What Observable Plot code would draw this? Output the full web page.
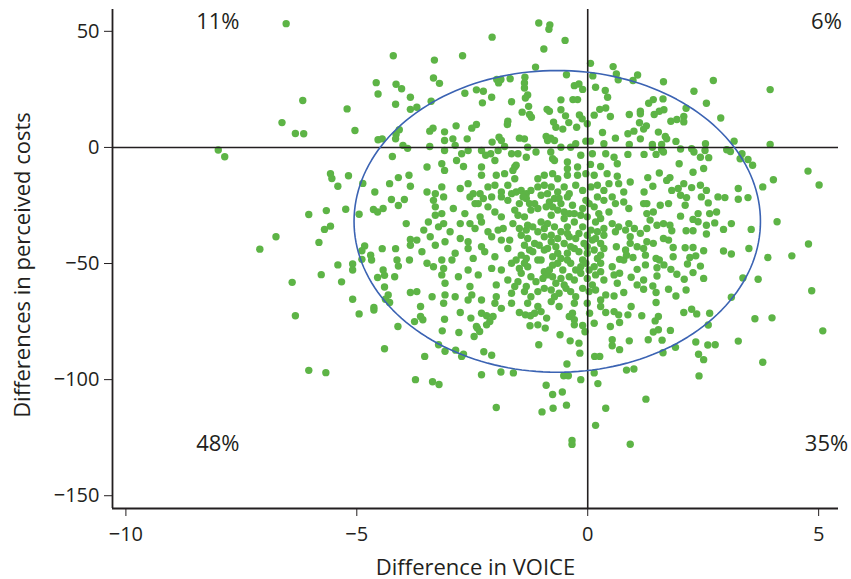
<!DOCTYPE html>
<html><head><meta charset="utf-8">
<script src="https://cdn.jsdelivr.net/npm/d3@7"></script>
<script src="https://cdn.jsdelivr.net/npm/@observablehq/plot@0.6"></script>
<style>body{margin:0;background:#fff}</style>
</head><body><div id="chart"></div>
<script>
// Axis setup
const xDomain = [-10.29, 5.43];
const yDomain = [-155.5, 59.4];
const xTicks = [-10, -5, 0, 5];
const yTicks = [-150, -100, -50, 0, 50];
const xLabel = "Difference in VOICE";
const yLabel = "Differences in perceived costs";

// Quadrant shares
const quadrantText = ["11%", "6%", "48%", "35%"];
const quadrantX = [-8.01, 5.17, -8.01, 5.17];
const quadrantY = [54.2, 54.2, -127.6, -127.6];

// Ellipse parameters
const ellipseCenter = [-0.66, -31.85];
const ellipseRadii = [4.40, 64.97];

// Scatter points [difference in VOICE, difference in perceived costs]
const scatterPairs = [
[-6.53,53.3],[-4.21,39.5],[-4.58,27.9],[-4.15,27.2],[-4.03,25.3],[-4.54,23.0],[-3.84,21.6],[-4.16,18.6],[-3.84,16.4],[-6.17,20.2],[-5.21,16.6],[-6.62,10.7],[-6.33,6.0],[-6.15,5.9],[-5.04,7.3],[-4.08,7.6],[-4.15,5.6],[-4.16,3.7],[-4.54,3.3],[-4.45,3.7],[-4.0,0.9],[-3.90,-0.4],[-4.23,-3.9],[-8.0,-1.1],[-7.86,-4.0],
[-1.06,53.6],[-0.82,52.8],[-0.84,50.9],[-2.07,47.5],[-0.49,46.1],[-0.95,42.4],[-2.71,39.5],[-3.32,37.6],[0.06,36.2],[0.55,34.8],[-1.13,34.6],[0.62,31.6],[0.66,29.1],[-0.46,31.3],[0.11,30.8],[-3.34,29.9],[-3.21,27.6],[-1.97,29.3],[-1.88,29.3],[-1.93,27.8],[-1.68,29.6],[-1.36,30.2],[-1.37,27.8],[-1.37,25.6],[-2.41,24.8],[-2.26,24.2],[-2.66,23.3],[-2.28,19.2],[-2.08,21.6],[-1.30,22.6],[-1.35,21.3],[-1.65,19.7],[-1.28,17.7],[-1.42,15.2],[-1.26,14.2],[-1.22,13.0],[-0.29,26.6],[-0.19,27.3],[-0.11,25.0],[0.17,25.9],[0.38,24.5],[0.43,21.6],[-0.32,20.6],[-0.22,20.6],[-0.58,20.5],[-0.88,16.4],[-0.83,15.6],[-0.58,16.2],[-0.48,13.6],[-0.18,14.0],[-0.12,12.3],[0.14,13.9],[0.26,16.4],[0.39,17.0],[0.49,13.3],[-0.74,10.9],[-0.69,8.7],[-0.54,7.9],[-0.41,10.7],[-0.24,8.7],[-0.01,10.2],[0.32,6.4],[-1.73,11.3],[-1.74,9.9],[-2.85,9.3],[-2.41,9.9],[-2.51,8.3],[-3.35,8.3],[-3.42,7.0],[-3.10,6.7],[-3.39,19.9],[-3.70,17.3],[-3.10,3.0],[-2.92,3.7],[-2.61,3.7],[-2.07,2.3],[-1.92,4.4],[-1.87,3.0],[-1.48,4.0],[-1.37,3.7],[-0.90,4.7],[-0.80,4.0],[-0.87,3.0],[-0.72,3.0],[-0.04,2.7],[0.06,2.7],[0.35,1.6],[0.60,4.0],[-3.42,0.4],[-3.10,-1.3],[-2.87,0.9],[-2.73,-2.7],[-2.59,-1.3],[-2.30,-1.3],[-2.21,-3.4],[-2.10,-2.7],[-1.94,-1.3],[-1.80,0.4],[-1.65,-2.7],[-1.51,-2.7],[-1.30,0.1],[-1.33,-4.2],[-1.12,-2.0],[-0.80,-2.0],[-0.76,-4.9],[-0.58,0.1],[-0.37,0.1],[-0.26,1.6],[-0.15,-3.4],[0.10,-2.7],[0.39,-2.7],[0.57,-4.2],[-3.48,-8.4],[-3.16,-7.0],[-2.69,-8.2],[-2.30,-8.4],[-1.58,-8.4],[-0.44,-6.3],[0.06,-7.3],[0.28,-8.2],
[1.08,31.2],[0.98,28.8],[1.64,28.3],[2.72,28.8],[2.30,24.2],[3.95,24.9],[1.42,20.6],[1.32,19.0],[1.63,20.9],[2.57,19.0],[2.13,16.9],[1.65,16.2],[1.55,15.6],[1.44,14.2],[1.14,15.6],[1.14,14.5],[0.90,14.2],[2.88,12.7],[2.08,13.3],[1.93,12.0],[1.80,11.3],[2.08,11.0],[1.12,10.6],[1.27,9.3],[1.21,7.9],[1.53,6.6],[1.00,7.0],[0.87,5.9],[1.68,4.7],[1.71,3.7],[1.14,3.7],[1.91,2.6],[0.90,1.3],[1.40,1.3],[1.60,1.3],[2.55,1.6],[3.17,2.7],[3.95,1.3],[1.60,-1.0],[1.40,0.1],[2.01,-0.7],[2.25,-0.6],[2.30,-2.0],[2.54,-1.3],[3.01,-1.0],[3.09,-1.8],[3.34,-2.7],[3.30,-4.9],[3.47,-5.2],[3.57,-7.7],[4.77,-10.2],[0.87,-3.0],[1.22,-3.0],[1.48,-3.0],[1.64,-2.0],[2.44,-4.2],[2.62,-4.4],[1.98,-7.0],[0.64,-7.0],[2.51,-9.1],
[5.01,-16.2],[4.02,-13.9],[3.79,-17.0],[3.26,-17.7],[3.26,-22.3],[3.47,-21.6],[4.10,-32.0],[3.54,-35.3],[3.11,-32.8],[2.94,-35.3],[4.78,-41.6],[4.42,-46.7],[3.90,-47.4],[3.49,-43.5],[2.94,-44.6],[3.11,-45.9],[3.36,-56.2],[3.69,-56.8],[4.85,-61.7],[3.11,-64.5],[3.62,-73.8],[3.99,-73.4],[2.64,-71.4],[2.08,-71.1],[2.25,-69.7],[2.36,-71.7],[2.51,-44.5],[2.51,-56.4],[2.28,-53.9],[2.09,-56.8],[2.13,-61.4],[1.91,-64.0],[1.75,-61.1],[2.44,-51.1],[2.34,-46.7],[2.21,-47.4],[2.16,-50.2],[2.28,-43.1],[2.11,-43.2],[1.85,-43.1],[1.85,-47.1],[1.80,-52.5],[1.93,-54.6],[1.50,-51.8],[1.50,-55.4],[1.55,-48.5],[1.48,-47.8],[1.25,-46.4],[1.25,-50.6],[1.07,-52.5],[0.94,-55.9],[1.21,-57.1],[1.41,-59.7],[1.48,-62.5],[1.21,-61.1],[1.07,-59.2],[0.78,-62.5],[0.57,-64.0],[0.64,-58.5],[0.69,-54.2],[1.48,-66.8],[0.94,-68.5],[0.87,-72.1],[1.17,-72.5],[1.53,-72.8],[0.67,-72.1],[1.78,-13.0],[1.71,-14.2],[1.55,-11.0],[1.30,-13.0],[2.28,-10.7],[2.44,-16.3],[2.57,-18.5],[2.25,-17.3],[2.08,-15.6],[1.96,-17.7],[1.82,-18.5],[1.41,-16.7],[1.22,-19.2],[0.92,-14.9],[0.64,-12.4],[0.67,-15.6],[0.78,-19.2],[2.46,-21.3],[2.61,-23.9],[2.82,-21.3],[2.97,-21.6],[2.64,-28.5],[2.79,-27.8],[2.39,-28.5],[2.39,-32.0],[2.28,-31.0],[2.57,-33.5],[2.57,-37.3],[2.75,-32.5],[2.28,-35.9],[2.13,-35.9],[2.01,-29.6],[2.11,-24.9],[1.75,-24.2],[1.57,-24.9],[1.42,-27.8],[1.28,-28.5],[1.28,-24.2],[1.64,-32.8],[1.78,-33.5],[1.82,-35.9],[1.50,-33.5],[1.35,-31.3],[1.28,-34.9],[1.01,-34.9],[0.89,-32.8],[0.82,-35.6],[0.92,-38.5],[1.14,-37.0],[1.64,-39.2],[1.75,-39.9],[1.42,-41.3],[1.28,-40.6],[1.21,-43.5],[1.07,-42.8],[0.92,-41.3],[0.82,-44.2],[0.62,-42.8],[0.60,-36.3],[0.67,-34.2],[0.53,-32.8],[0.53,-21.3],[0.60,-24.2],[0.78,-23.5],[0.89,-26.3],[1.21,-24.2],[2.01,-20.6],[2.14,-21.6],[0.69,-48.2],[0.78,-48.5],[0.98,-47.4],[0.84,-46.4],[0.53,-51.4],[0.57,-54.9],[1.65,-50.6],[0.57,-70.7],
[0.69,-75.4],[0.49,-77.1],[0.53,-82.8],[0.53,-85.4],[0.69,-87.1],[0.90,-83.3],[1.46,-74.7],[1.42,-79.5],[1.53,-78.5],[1.79,-78.8],[1.31,-82.8],[1.61,-83.0],[1.63,-88.4],[1.90,-86.1],[2.61,-76.5],[2.34,-83.8],[2.60,-85.1],[2.76,-85.0],[2.40,-89.1],[2.51,-91.4],[2.41,-98.4],[3.26,-83.4],[3.79,-92.5],[5.09,-79.0],[0.84,-95.9],[1.00,-95.4],[1.26,-108.4],[0.92,-127.8],
[-3.73,-100.0],[-3.36,-100.9],[-3.22,-102.1],[-3.53,-90.0],[-3.23,-85.0],[-3.09,-87.8],[-2.86,-87.3],[-2.73,-90.0],[-2.69,-89.0],[-3.15,-79.0],[-2.79,-79.7],[-2.46,-81.4],[-2.34,-79.3],[-2.39,-77.8],[-2.25,-88.0],[-2.08,-89.5],[-2.30,-97.9],[-1.88,-96.7],[-1.61,-97.1],[-1.98,-112.0],[-1.06,-85.0],[-0.90,-102.4],[-0.76,-106.4],[-0.55,-105.3],[-0.45,-93.3],[-0.52,-98.3],[-0.42,-98.3],[-0.46,-111.0],[-0.75,-112.3],[-0.99,-113.9],[-0.15,-100.0],[0.14,-97.1],[0.22,-101.7],[0.39,-112.3],[0.17,-119.7],[-0.34,-126.2],[-0.34,-127.9],[-0.38,-83.3],[-0.19,-84.3],[-0.17,-88.6],[0.15,-90.0],[0.26,-90.0],[-0.60,-80.7],[-0.92,-77.8],[-1.25,-76.8],[-1.08,-76.4],[-0.89,-73.5],[-0.29,-76.4],[-0.11,-76.7],[-0.06,-79.4],[0.14,-75.7],[-0.40,-72.8],[-0.33,-71.4],[-0.29,-74.2],[0.04,-71.4],[0.39,-71.1],[-1.48,-71.1],[-1.35,-72.1],[-1.24,-72.5],[-1.15,-71.4],[-1.01,-70.7],[-2.30,-71.4],[-2.19,-72.5],[-2.05,-72.8],[-2.12,-75.0],[-2.19,-76.4],[-2.53,-73.5],[-2.41,-77.1],[-3.10,-74.0],[-3.57,-74.2],[-3.75,-75.0],[-3.62,-72.8],[-2.76,-71.1],
[-6.33,-72.5],[-4.95,-71.7],[-4.63,-70.0],[-4.11,-77.1],[-4.40,-86.7],[-6.04,-96.0],[-5.67,-97.0],
[-5.57,-11.3],[-5.54,-13.4],[-5.18,-12.2],[-5.41,-16.7],[-4.87,-15.5],[-4.61,-19.2],[-4.29,-15.6],[-4.10,-13.0],[-3.87,-12.0],[-3.84,-16.7],[-4.25,-22.4],[-3.97,-22.4],[-4.10,-25.0],[-4.64,-26.7],[-4.55,-27.8],[-4.43,-26.3],[-4.95,-28.8],[-5.24,-26.6],[-5.66,-27.2],[-6.04,-28.9],[-5.57,-33.9],[-5.70,-35.3],[-3.93,-32.8],[-6.75,-38.5],[-7.10,-43.8],[-5.82,-40.9],[-4.83,-42.4],[-4.89,-44.5],[-4.45,-43.6],[-4.16,-43.6],[-4.70,-46.4],[-4.68,-48.5],[-4.89,-48.2],[-4.13,-48.5],[-4.10,-51.1],[-3.86,-48.5],[-5.41,-50.6],[-5.09,-50.2],[-5.09,-52.8],[-5.77,-54.8],[-5.33,-57.9],[-6.40,-58.1],[-4.43,-52.8],[-4.40,-55.1],[-4.55,-56.0],[-4.18,-55.7],[-4.40,-60.1],[-4.32,-63.5],[-4.38,-65.4],[-4.29,-66.8],[-3.84,-62.5],[-5.09,-65.4],[-4.63,-68.9],[-3.84,-39.6],[-3.84,-42.1],
[-2.84,-5.6],[-2.01,-5.6],[-1.55,-7.7],[-0.72,-5.6],[-0.22,-8.4],[-0.44,-9.2],[-3.10,-9.9],
[-2.30,-12.0],[-1.98,-12.0],[-1.80,-11.3],[-1.62,-9.9],[-1.58,-13.5],[-1.08,-13.5],[-0.94,-12.0],[-0.76,-11.3],[-0.65,-13.5],[-0.44,-12.0],[-0.22,-12.0],[-0.04,-11.3],[0.14,-12.0],[0.42,-11.3],
[-3.48,-19.2],[-3.30,-19.9],[-3.16,-17.0],[-2.76,-17.7],[-2.59,-15.6],[-2.48,-19.9],[-2.33,-19.9],[-2.16,-17.0],[-2.01,-16.3],[-1.87,-19.2],[-1.73,-16.3],[-1.65,-19.9],[-1.55,-19.2],[-1.44,-18.5],[-1.33,-19.9],[-1.23,-18.5],[-1.08,-17.0],[-0.94,-16.3],[-0.79,-17.0],[-0.65,-19.2],[-0.51,-17.0],[-0.40,-19.9],[-0.26,-16.3],[-0.11,-18.5],[0.07,-17.0],[0.21,-16.3],[0.35,-18.5],[0.46,-15.6],
[-3.34,-22.8],[-3.12,-21.3],[-2.55,-21.3],[-2.44,-24.2],[-2.26,-22.0],[-2.08,-21.3],[-1.87,-21.3],[-1.73,-22.8],[-1.48,-24.2],[-1.33,-22.0],[-1.15,-24.2],[-1.01,-20.6],[-0.83,-23.5],[-0.72,-22.0],[-0.58,-24.2],[-0.44,-21.3],[-0.33,-24.9],[-0.04,-22.8],[0.03,-24.2],[0.21,-21.3],[0.35,-22.8],
[-2.91,-26.3],[-3.30,-25.6],[-3.16,-28.5],[-3.30,-29.2],[-2.33,-29.9],[-1.58,-27.0],[-1.37,-29.9],[-1.23,-27.0],[-1.08,-26.3],[-0.90,-25.6],[-0.79,-29.2],[-0.65,-27.0],[-0.51,-27.8],[-0.29,-28.5],[-0.11,-26.3],[0.14,-25.6],[0.24,-28.5],[0.46,-27.8],
[-3.45,-32.1],[-3.23,-34.2],[-3.12,-32.8],[-2.76,-32.8],[-2.55,-32.8],[-2.44,-34.9],[-2.30,-32.1],[-2.16,-36.3],[-1.94,-35.6],[-1.83,-34.9],[-1.62,-32.8],[-1.48,-34.9],[-1.33,-35.6],[-1.19,-34.2],[-1.01,-32.1],[-0.87,-32.8],[-0.72,-34.2],[-0.58,-36.3],[-0.44,-34.2],[-0.29,-32.1],[-0.11,-34.2],[0.07,-35.6],[0.21,-36.3],[0.35,-34.9],
[-3.70,-39.9],[-3.55,-35.6],[-3.09,-40.6],[-2.76,-39.2],[-2.59,-40.6],[-2.30,-42.8],[-2.08,-38.5],[-1.87,-39.9],[-1.69,-39.9],[-1.44,-37.8],[-1.30,-39.2],[-1.15,-41.4],[-0.94,-38.5],[-0.79,-40.6],[-0.69,-42.8],[-0.51,-41.4],[-0.40,-38.5],[-0.26,-39.2],[-0.08,-41.4],[0.10,-39.9],[0.28,-41.4],
[-3.30,-42.1],[-2.87,-45.6],[-2.59,-43.5],[-2.48,-47.8],[-2.23,-44.9],[-2.01,-47.1],[-1.73,-43.5],[-1.44,-46.4],[-1.33,-47.8],[-1.19,-44.9],[-1.08,-48.5],[-0.94,-44.2],[-0.76,-47.1],[-0.58,-47.8],[-0.44,-45.6],[-0.29,-43.5],[-0.11,-48.5],[-0.01,-45.6],[0.21,-47.8],[0.35,-43.5],
[-3.48,-49.9],[-3.34,-51.4],[-3.16,-48.5],[-3.12,-52.1],[-2.37,-54.9],[-2.08,-52.1],[-1.87,-52.8],[-1.65,-49.9],[-1.48,-52.1],[-1.30,-51.4],[-0.94,-53.5],[-0.76,-50.7],[-0.54,-52.8],[-0.37,-49.9],[-0.15,-51.4],[0.03,-52.8],[0.28,-53.5],
[-3.16,-54.9],[-3.09,-58.5],[-1.98,-59.2],[-1.73,-57.1],[-1.51,-57.8],[-1.33,-59.9],[-1.12,-57.8],[-0.87,-54.9],[-0.69,-58.5],[-0.51,-59.2],[-0.29,-57.1],[-0.01,-56.4],[0.10,-59.2],[0.35,-57.1],
[-3.70,-62.1],[-3.09,-63.5],[-2.55,-59.9],[-2.51,-63.5],[-1.98,-64.3],[-1.65,-62.8],[-1.23,-64.3],[-1.08,-62.1],[-0.79,-61.4],[-0.62,-62.8],[-0.47,-60.7],[-0.26,-64.3],[0.03,-62.1],[0.39,-63.5],
[-3.62,-68.5],[-3.12,-67.1],[-1.87,-69.3],[-1.65,-67.1],[-1.08,-68.5],[-0.62,-68.5],[0.28,-68.5],
[-1.40,-21.3],[-1.26,-24.2],[-0.87,-19.9],[-0.76,-25.6],[-0.62,-22.0],[-0.51,-30.6],[-0.40,-28.5],[-0.15,-29.2],[-0.01,-29.9],[0.17,-32.1],[0.28,-30.6],[-1.51,-29.2],[-1.30,-33.5],[-1.08,-36.3],[-0.94,-34.9],[-0.79,-37.8],[-0.65,-39.2],[-0.44,-37.1],[-0.19,-37.1],[-0.01,-37.8],[0.17,-39.2],[0.35,-37.8],
[-1.37,-42.1],[-1.26,-44.2],[-1.05,-42.1],[-0.87,-43.5],[-0.65,-45.6],[-0.37,-42.8],[-0.19,-44.9],[-0.01,-42.8],[0.14,-44.2],[0.28,-46.4],[-1.55,-48.5],[-1.37,-49.9],[-1.01,-48.5],[-0.83,-52.8],[-0.65,-49.9],[-0.44,-48.5],[-0.26,-52.8],[-0.04,-49.9],[0.14,-51.4],[0.28,-49.9],
[-1.44,-54.2],[-1.23,-55.7],[-0.97,-56.4],[-0.76,-55.7],[-0.58,-56.4],[-0.40,-55.7],[-0.15,-54.2],[0.17,-54.9],[-1.58,-59.9],[-1.37,-62.1],[-0.94,-60.7],[-0.72,-64.3],[-0.37,-62.1],[-0.11,-60.7],[0.17,-61.4],[0.28,-65.7],[-0.01,-67.1],[-0.29,-67.1],[-0.79,-66.4],[-1.30,-67.1],
[-2.01,-67.1],[-2.30,-65.7],[-2.59,-65.7],[-2.87,-64.3],[-3.37,-64.3],[-2.80,-55.7],[-2.59,-52.8],[-2.94,-48.5],[-3.59,-44.9],[-3.41,-38.5],[-2.98,-36.3],[-2.66,-28.5],[-2.01,-27.8],[-1.87,-29.9],[-2.16,-25.6],[-2.37,-24.2]
];

const points = scatterPairs.map(([voice, cost]) => ({voice, cost}));
const quadrants = quadrantText.map((t, i) => ({t, x: quadrantX[i], y: quadrantY[i]}));
const ellipse = d3.range(0, 361, 2).map(a => {
  const t = a * Math.PI / 180;
  return {x: ellipseCenter[0] + ellipseRadii[0] * Math.cos(t), y: ellipseCenter[1] + ellipseRadii[1] * Math.sin(t)};
});

const ink = "#231f20";
const chart = Plot.plot({
  width: 851,
  height: 579,
  marginLeft: 112,
  marginRight: 13,
  marginTop: 9,
  marginBottom: 71,
  style: {fontFamily: "'Open Sans', 'Noto Sans', sans-serif", fontSize: "20px", color: ink, background: "#fff"},
  x: {domain: xDomain, ticks: xTicks, tickSize: 8, tickPadding: 10, label: null},
  y: {domain: yDomain, ticks: yTicks, tickSize: 8, tickPadding: 5, label: null},
  marks: [
    Plot.dot(points, {x: "voice", y: "cost", r: 3.7, fill: "#5db446", stroke: "none"}),
    Plot.ruleY([0], {stroke: ink, strokeWidth: 1.6}),
    Plot.ruleX([0], {stroke: ink, strokeWidth: 1.6}),
    Plot.line(ellipse, {x: "x", y: "y", stroke: "#3b63b3", strokeWidth: 1.6}),
    Plot.ruleX([xDomain[0]], {stroke: ink, strokeWidth: 1.8}),
    Plot.ruleY([yDomain[0]], {stroke: ink, strokeWidth: 1.8}),
    Plot.text(quadrants, {x: "x", y: "y", text: "t", fontSize: 22, fill: ink}),
    Plot.text([xLabel], {frameAnchor: "bottom", dy: 66, fontSize: 22, fill: ink}),
    Plot.text([yLabel], {frameAnchor: "left", dx: -90, dy: 6, rotate: -90, textAnchor: "middle", fontSize: 22, fill: ink})
  ]
});
document.getElementById("chart").appendChild(chart);
</script>
</body></html>
